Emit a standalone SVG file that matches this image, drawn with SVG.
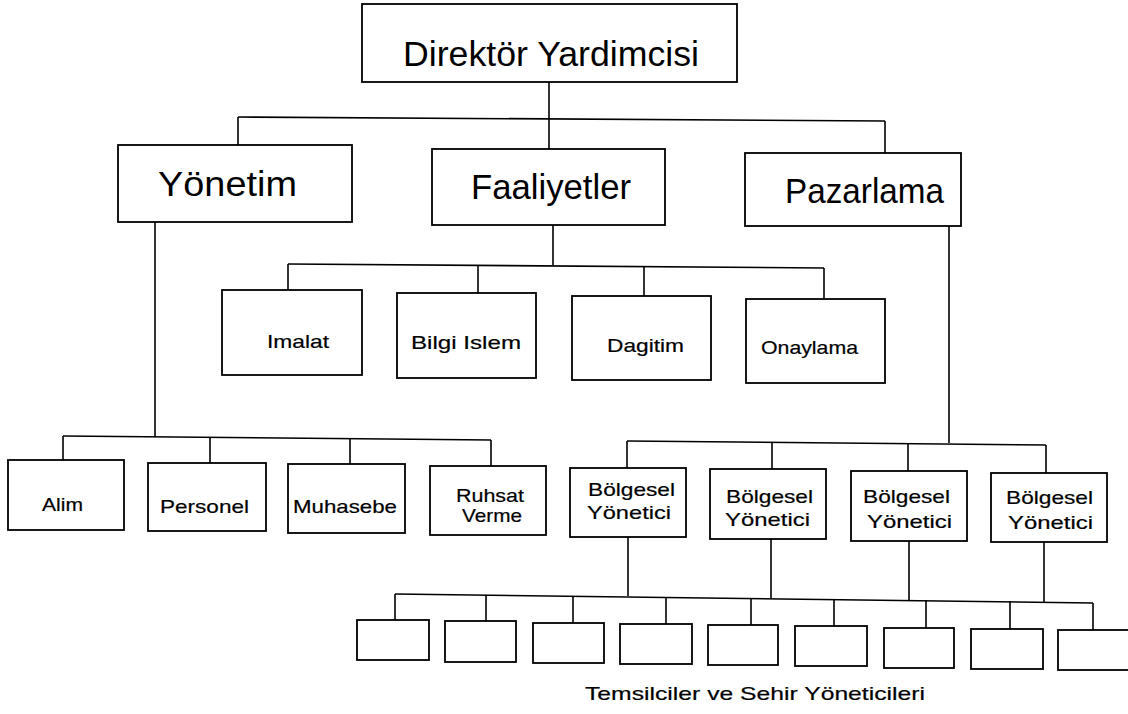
<svg xmlns="http://www.w3.org/2000/svg" width="1128" height="714" viewBox="0 0 1128 714">
<style>
.box{fill:#fff;stroke:#000;stroke-width:1.8}
.con{fill:none;stroke:#000;stroke-width:1.6}
.big{font-family:"Liberation Sans",Arial,sans-serif;font-size:35px;fill:#000;text-anchor:start}
.sm{font-family:"Liberation Sans",Arial,sans-serif;font-size:19px;fill:#000;stroke:#000;stroke-width:0.2;text-anchor:start}
</style>
<rect width="1128" height="714" fill="#fff"/>
<g id="connectors" class="con">
<path d="M549,82 V149"/>
<path d="M238,117 L885,121"/>
<path d="M238,117 V145"/>
<path d="M885,121 V153"/>
<path d="M553,225 V265"/>
<path d="M288,264 L824,268"/>
<path d="M288,264 V290"/>
<path d="M478,265 V293"/>
<path d="M644,266 V296"/>
<path d="M824,268 V299"/>
<path d="M155,222 V437"/>
<path d="M63,436 L491,440"/>
<path d="M63,436 V460"/>
<path d="M210,437 V463"/>
<path d="M350,439 V464"/>
<path d="M491,440 V466"/>
<path d="M949,226 V443"/>
<path d="M627,441 L1046,445"/>
<path d="M627,441 V468"/>
<path d="M772,442 V469"/>
<path d="M908,444 V471"/>
<path d="M1046,445 V473"/>
<path d="M628,537 V596"/>
<path d="M771,539 V598"/>
<path d="M909,541 V600"/>
<path d="M1044,542 V603"/>
<path d="M395,594 L1093,603"/>
<path d="M395,594 V620"/>
<path d="M486,595 V621"/>
<path d="M573,596 V623"/>
<path d="M666,597 V624"/>
<path d="M751,598 V625"/>
<path d="M834,599 V626"/>
<path d="M926,600 V628"/>
<path d="M1010,601 V629"/>
<path d="M1093,603 V630"/>
</g>
<g id="n-direktor"><rect class="box" x="362" y="4" width="375" height="78"/><text class="big" x="403" y="66" font-size="37" textLength="296" lengthAdjust="spacingAndGlyphs">Direktör Yardimcisi</text></g>
<g id="n-yonetim"><rect class="box" x="118" y="145" width="234" height="77"/><text class="big" x="158" y="196" textLength="139" lengthAdjust="spacingAndGlyphs">Yönetim</text></g>
<g id="n-faaliyetler"><rect class="box" x="432" y="149" width="233" height="76"/><text class="big" x="471" y="199" textLength="160" lengthAdjust="spacingAndGlyphs">Faaliyetler</text></g>
<g id="n-pazarlama"><rect class="box" x="745" y="153" width="216" height="73"/><text class="big" x="785" y="203" textLength="159" lengthAdjust="spacingAndGlyphs">Pazarlama</text></g>
<g id="n-imalat"><rect class="box" x="222" y="290" width="140" height="85"/><text class="sm" x="267" y="348" textLength="62" lengthAdjust="spacingAndGlyphs">Imalat</text></g>
<g id="n-bilgi"><rect class="box" x="397" y="293" width="139" height="85"/><text class="sm" x="411" y="349" textLength="110" lengthAdjust="spacingAndGlyphs">Bilgi Islem</text></g>
<g id="n-dagitim"><rect class="box" x="572" y="296" width="139" height="84"/><text class="sm" x="607" y="352" textLength="77" lengthAdjust="spacingAndGlyphs">Dagitim</text></g>
<g id="n-onaylama"><rect class="box" x="746" y="299" width="139" height="84"/><text class="sm" x="761" y="354" textLength="97" lengthAdjust="spacingAndGlyphs">Onaylama</text></g>
<g id="n-alim"><rect class="box" x="8" y="460" width="116" height="70"/><text class="sm" x="42" y="511" textLength="41" lengthAdjust="spacingAndGlyphs">Alim</text></g>
<g id="n-personel"><rect class="box" x="148" y="463" width="118" height="68"/><text class="sm" x="160" y="513" textLength="89" lengthAdjust="spacingAndGlyphs">Personel</text></g>
<g id="n-muhasebe"><rect class="box" x="288" y="464" width="117" height="69"/><text class="sm" x="293" y="513" textLength="104" lengthAdjust="spacingAndGlyphs">Muhasebe</text></g>
<g id="n-ruhsat"><rect class="box" x="430" y="466" width="116" height="69"/><text class="sm" x="456" y="502" textLength="68" lengthAdjust="spacingAndGlyphs">Ruhsat</text><text class="sm" x="462" y="522" textLength="60" lengthAdjust="spacingAndGlyphs">Verme</text></g>
<g id="n-bolge1"><rect class="box" x="570" y="468" width="116" height="69"/><text class="sm" x="588" y="496" textLength="87" lengthAdjust="spacingAndGlyphs">Bölgesel</text><text class="sm" x="587" y="519" textLength="84" lengthAdjust="spacingAndGlyphs">Yönetici</text></g>
<g id="n-bolge2"><rect class="box" x="710" y="469" width="116" height="70"/><text class="sm" x="726" y="503" textLength="87" lengthAdjust="spacingAndGlyphs">Bölgesel</text><text class="sm" x="725" y="526" textLength="85" lengthAdjust="spacingAndGlyphs">Yönetici</text></g>
<g id="n-bolge3"><rect class="box" x="851" y="471" width="116" height="70"/><text class="sm" x="863" y="503" textLength="87" lengthAdjust="spacingAndGlyphs">Bölgesel</text><text class="sm" x="867" y="528" textLength="85" lengthAdjust="spacingAndGlyphs">Yönetici</text></g>
<g id="n-bolge4"><rect class="box" x="991" y="473" width="116" height="69"/><text class="sm" x="1006" y="504" textLength="87" lengthAdjust="spacingAndGlyphs">Bölgesel</text><text class="sm" x="1008" y="529" textLength="85" lengthAdjust="spacingAndGlyphs">Yönetici</text></g>
<g id="n-t1"><rect class="box" x="357" y="620" width="72" height="40"/></g>
<g id="n-t2"><rect class="box" x="445" y="621" width="71" height="41"/></g>
<g id="n-t3"><rect class="box" x="533" y="623" width="71" height="40"/></g>
<g id="n-t4"><rect class="box" x="620" y="624" width="72" height="40"/></g>
<g id="n-t5"><rect class="box" x="708" y="625" width="70" height="40"/></g>
<g id="n-t6"><rect class="box" x="795" y="626" width="72" height="40"/></g>
<g id="n-t7"><rect class="box" x="884" y="628" width="70" height="40"/></g>
<g id="n-t8"><rect class="box" x="971" y="629" width="72" height="40"/></g>
<g id="n-t9"><rect class="box" x="1058" y="630" width="82" height="40"/></g>
<g id="caption"><text class="sm" x="585" y="700" textLength="340" lengthAdjust="spacingAndGlyphs">Temsilciler ve Sehir Yöneticileri</text></g>
</svg>
